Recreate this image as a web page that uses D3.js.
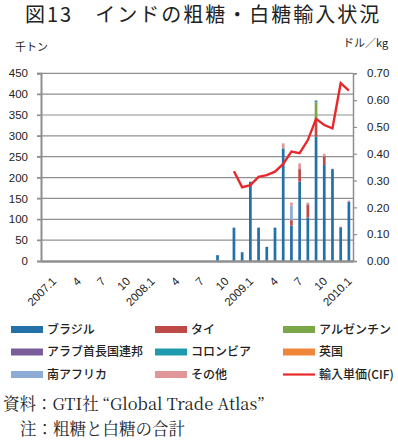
<!DOCTYPE html>
<html><head><meta charset="utf-8">
<script src="https://cdn.jsdelivr.net/npm/d3@7"></script>
<style>
html,body{margin:0;padding:0;background:#fff;}
svg{display:block;}
</style></head>
<body>
<script>
const categories = ["2007.1","2007.2","2007.3","2007.4","2007.5","2007.6","2007.7","2007.8","2007.9","2007.10","2007.11","2007.12",
"2008.1","2008.2","2008.3","2008.4","2008.5","2008.6","2008.7","2008.8","2008.9","2008.10","2008.11","2008.12",
"2009.1","2009.2","2009.3","2009.4","2009.5","2009.6","2009.7","2009.8","2009.9","2009.10","2009.11","2009.12",
"2010.1","2010.2"];
const tickCategories = ["2007.1","2007.4","2007.7","2007.10","2008.1","2008.4","2008.7","2008.10","2009.1","2009.4","2009.7","2009.10","2010.1"];
const tickLabels = ["2007.1","4","7","10","2008.1","4","7","10","2009.1","4","7","10","2010.1"];
const leftTicks = [0,50,100,150,200,250,300,350,400,450];
const rightTicks = [0,0.1,0.2,0.3,0.4,0.5,0.6,0.7];

// 千トン
const brazil    = [0,0,0,0,0,0,0,0,0,0,0,0, 0,0,0,0,0,0,0,0,0,14,0,80, 21,190,80,34,80,270,85,190,104,298,230,218, 80,142];
const thai      = [0,0,0,0,0,0,0,0,0,0,0,0, 0,0,0,0,0,0,0,0,0,0,0,0, 0,0,0,0,0,0,13,30,30,42,20,0, 2,0];
const argentina = [0,0,0,0,0,0,0,0,0,0,0,0, 0,0,0,0,0,0,0,0,0,0,0,0, 0,0,0,0,0,0,0,0,0,40,0,0, 0,0];
const uae       = [0,0,0,0,0,0,0,0,0,0,0,0, 0,0,0,0,0,0,0,0,0,0,0,0, 0,0,0,0,0,0,0,2,2,0,1,3, 0,0];
const colombia  = [0,0,0,0,0,0,0,0,0,0,0,0, 0,0,0,0,0,0,0,0,0,0,0,0, 0,0,0,0,0,0,0,0,0,5,0,0, 0,0];
const uk        = [0,0,0,0,0,0,0,0,0,0,0,0, 0,0,0,0,0,0,0,0,0,0,0,0, 0,0,0,0,0,0,0,0,0,0,2,0, 0,0];
const safrica   = [0,0,0,0,0,0,0,0,0,0,0,0, 0,0,0,0,0,0,0,0,0,0,0,0, 0,0,0,0,0,0,35,0,0,0,0,0, 0,0];
const other     = [0,0,0,0,0,0,0,0,0,0,0,0, 0,0,0,0,0,0,0,0,0,0,0,0, 0,0,0,0,0,12,7,12,4,1,4,0, 0,3];
// ドル/kg
const unitPrice = [null,null,null,null,null,null,null,null,null,null,null,null, null,null,null,null,null,null,null,null,null,null,null,0.335,
0.275,0.283,0.314,0.320,0.333,0.362,0.408,0.402,0.451,0.530,0.507,0.495, 0.663,0.635];

const seriesNames = ["ブラジル","タイ","アルゼンチン","アラブ首長国連邦","コロンビア","英国","南アフリカ","その他"];
const seriesData = [brazil,thai,argentina,uae,colombia,uk,safrica,other];
const seriesColors = ["#2470A8","#BE4A47","#7AA748","#7B5C9B","#1E9AAF","#F0863A","#8CACD6","#E09797"];
const lineName = "輸入単価(CIF)";
const lineColor = "#E8282B";

const W = 398, H = 441;
const L = 41, R = 353, T = 73.3, B = 261;
const svg = d3.select("body").append("svg").attr("width",W).attr("height",H);
svg.append("rect").attr("width",W).attr("height",H).attr("fill","#fff");

const x = d3.scaleBand().domain(categories).range([L,R]).padding(0);
const yL = d3.scaleLinear().domain([0,450]).range([B,T]);
const yR = d3.scaleLinear().domain([0,0.7]).range([B,T]);
const gridColor = "#8f8f8f";
const jp = "'Noto Sans CJK JP', 'Noto Sans', sans-serif";
const num = "'Liberation Sans', Arial, sans-serif";

// Title
svg.append("text").attr("x",25).attr("y",22).attr("font-family",jp).attr("font-size",20)
  .attr("letter-spacing",2.0).attr("fill","#222").text("図13　インドの粗糖・白糖輸入状況");
svg.append("text").attr("x",15).attr("y",51).attr("font-family",jp).attr("font-size",11).attr("fill","#222").text("千トン");
svg.append("text").attr("x",343).attr("y",47).attr("font-family",jp).attr("font-size",11).attr("fill","#222").text("ドル／kg");

// gridlines
svg.append("g").selectAll("line").data(leftTicks.filter(d=>d>0)).join("line")
  .attr("x1",L-4).attr("x2",R).attr("y1",d=>yL(d)).attr("y2",d=>yL(d))
  .attr("stroke",gridColor).attr("stroke-width",1.2);

// left axis
const gLeft = svg.append("g").attr("transform",`translate(${L},0)`)
  .call(d3.axisLeft(yL).tickValues(leftTicks).tickSize(4).tickPadding(9));
gLeft.select(".domain").attr("stroke",gridColor).attr("stroke-width",2);
gLeft.selectAll(".tick line").attr("stroke",gridColor).attr("stroke-width",1.2);
gLeft.selectAll("text").attr("font-family",num).attr("font-size",11.5).attr("fill","#222");

// right axis
const gRight = svg.append("g").attr("transform",`translate(${R},0)`)
  .call(d3.axisRight(yR).tickValues(rightTicks).tickSize(4).tickPadding(10).tickFormat(d3.format(".2f")));
gRight.select(".domain").attr("stroke",gridColor).attr("stroke-width",1.5);
gRight.selectAll(".tick line").attr("stroke",gridColor).attr("stroke-width",1.2);
gRight.selectAll("text").attr("font-family",num).attr("font-size",11.5).attr("fill","#222");

// stacked bars
const rows = categories.map((c,i)=>{const o={cat:c}; seriesNames.forEach((n,k)=>o[n]=seriesData[k][i]); return o;});
const stacked = d3.stack().keys(seriesNames)(rows);
const bw = x.bandwidth()*0.33;
svg.append("g").selectAll("g").data(stacked).join("g").attr("fill",(d,i)=>seriesColors[i])
  .selectAll("rect").data(d=>d.filter(p=>p[1]-p[0]>0)).join("rect")
  .attr("x",d=>x(d.data.cat)+x.bandwidth()/2-bw/2).attr("width",bw)
  .attr("y",d=>yL(d[1])).attr("height",d=>yL(d[0])-yL(d[1]));

// bottom axis
const gBot = svg.append("g").attr("transform",`translate(0,${B})`)
  .call(d3.axisBottom(x).tickValues(tickCategories).tickSize(0).tickFormat((d,i)=>tickLabels[i]));
gBot.select(".domain").attr("stroke",gridColor).attr("stroke-width",2.6);
gBot.selectAll("text").attr("font-family",num).attr("font-size",11.5).attr("fill","#222")
  .attr("text-anchor","end").attr("transform","translate(7,16) rotate(-45)").attr("dy","0.35em").attr("dx","0");

// line
const line = d3.line().defined(d=>d!=null).x((d,i)=>x(categories[i])+x.bandwidth()/2).y(d=>yR(d));
svg.append("path").datum(unitPrice).attr("d",line).attr("fill","none").attr("stroke",lineColor)
  .attr("stroke-width",2.4).attr("stroke-linejoin","miter");

// legend
const legItems = seriesNames.map((n,i)=>({name:n,color:seriesColors[i],type:"rect"}));
legItems.push({name:lineName,color:lineColor,type:"line"});
const colX = [11,155,283], rowY = [329.5,352,374.5];
const lg = svg.append("g").selectAll("g").data(legItems).join("g")
  .attr("transform",(d,i)=>`translate(${colX[i%3]},${rowY[Math.floor(i/3)]})`);
lg.filter(d=>d.type==="rect").append("rect").attr("x",0).attr("y",-3.5).attr("width",32).attr("height",7).attr("fill",d=>d.color);
lg.filter(d=>d.type==="line").append("line").attr("x1",0).attr("x2",32).attr("y1",0).attr("y2",0).attr("stroke",d=>d.color).attr("stroke-width",2.2);
lg.append("text").attr("x",36).attr("y",0).attr("dy","0.36em").attr("font-family",jp).attr("font-size",12).attr("font-weight",500)
  .attr("fill","#222").text(d=>d.name);

// source notes
const serif = "'Noto Serif CJK JP','Liberation Serif','Noto Sans CJK JP', serif";
svg.append("text").attr("x",3).attr("y",410).attr("font-family",serif).attr("font-size",16.5).attr("fill","#222")
  .text("資料：GTI社 “Global Trade Atlas”");
svg.append("text").attr("x",20).attr("y",435).attr("font-family",serif).attr("font-size",16.5).attr("fill","#222")
  .text("注：粗糖と白糖の合計");
</script>
</body></html>
